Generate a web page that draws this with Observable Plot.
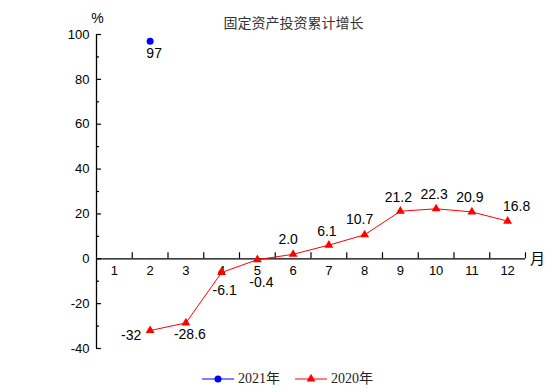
<!DOCTYPE html>
<html><head><meta charset="utf-8">
<script src="https://cdn.jsdelivr.net/npm/d3@7"></script>
<script src="https://cdn.jsdelivr.net/npm/@observablehq/plot@0.6"></script>
<style>
body{margin:0;background:#fff;}
#wrap{position:relative;width:554px;height:392px;background:#fff;}
#title{position:absolute;top:13px;left:0;width:587px;text-align:center;font:14px "Noto Sans CJK SC",sans-serif;color:#333;line-height:18px;}
#legend{position:absolute;top:370px;left:202px;display:flex;align-items:center;font:14px "Liberation Serif","Noto Sans CJK SC",serif;color:#222;line-height:18px;}
#legend .item{display:flex;align-items:center;margin-right:15px;}
#legend svg{margin-right:4px;}
#chart{position:absolute;top:0;left:0;}
</style>
</head><body>
<div id="wrap">
  <div id="chart"></div>
  <div id="title">固定资产投资累计增长</div>
  <div id="legend"></div>
</div>
<script>
// ---- data ----
const months = [1,2,3,4,5,6,7,8,9,10,11,12];
const series2021Months = [2];
const series2021Values = [97];
const series2020Months = [2,3,4,5,6,7,8,9,10,11,12];
const series2020Values = [-32,-28.6,-6.1,-0.4,2.0,6.1,10.7,21.2,22.3,20.9,16.8];
const series2020Labels = ["-32","-28.6","-6.1","-0.4","2.0","6.1","10.7","21.2","22.3","20.9","16.8"];
const series2021Labels = ["97"];
const yTicks = [-40,-20,0,20,40,60,80,100];
const yMinorTicks = [-30,-10,10,30,50,70,90];
const legendNames = ["2021年","2020年"];

// label placement names (per point)
const place2020 = ["left","below","belowDeep","belowDeeper","aboveLeft","above","aboveLeft","above","above","above","aboveRight"];
const place2021 = ["below"];

const offsets = {
  left:[-19,5], below:[4,12], belowDeep:[3,18], belowDeeper:[4,23],
  aboveLeft:[-5,-15], above:[-2,-14], aboveRight:[9,-15]
};

const RED = "#ff0000", BLUE = "#0000ff";
const d2020 = series2020Months.map((m,i)=>({m, v:series2020Values[i], label:series2020Labels[i], p:place2020[i]}));
const d2021 = series2021Months.map((m,i)=>({m, v:series2021Values[i], label:series2021Labels[i], p:place2021[i]}));
const allLabels = [...d2020, ...d2021];
const xMin = months[0]-0.5, xMax = months[months.length-1]+0.5;
const xBoundaries = months.map(m=>m+0.5);

const labelMarks = Object.keys(offsets).map(k => Plot.text(allLabels.filter(d=>d.p===k), {
  x:"m", y:"v", text:"label", dx:offsets[k][0], dy:offsets[k][1],
  fontSize:14, fontFamily:"Liberation Sans, Arial, sans-serif", fill:"#000"
}));

const plot = Plot.plot({
  width:554, height:365,
  marginLeft:96, marginRight:29, marginTop:34, marginBottom:17,
  style:{background:"transparent", overflow:"visible"},
  x:{domain:[xMin,xMax], axis:null},
  y:{domain:[-40,100], axis:null},
  marks:[
    // axes lines
    Plot.ruleX([xMin], {y1:-40, y2:100, stroke:"#000", strokeWidth:1.3}),
    Plot.ruleY([0], {x1:xMin, x2:xMax, stroke:"#000", strokeWidth:1.3}),
    // y ticks (pointing right)
    Plot.ruleY(yTicks, {x1:xMin, x2:xMin, insetLeft:0, insetRight:-5, stroke:"#000", strokeWidth:1.2}),
    Plot.ruleY(yMinorTicks, {x1:xMin, x2:xMin, insetLeft:0, insetRight:-3, stroke:"#000", strokeWidth:1.2}),
    // x ticks (pointing up)
    Plot.ruleX(xBoundaries, {y1:0, y2:0, insetTop:0, insetBottom:6, stroke:"#000", strokeWidth:1.2}),
    // tick labels
    Plot.text(yTicks, {x:xMin, y:d=>d, dx:-7, textAnchor:"end", fontSize:13, fontFamily:"Liberation Sans, Arial, sans-serif", fill:"#000"}),
    Plot.text(months, {x:d=>d, y:0, dy:12, fontSize:13, fontFamily:"Liberation Sans, Arial, sans-serif", fill:"#000"}),
    Plot.text(["%"], {x:xMin, y:100, dx:1, dy:-16, fontSize:14, fontFamily:"Liberation Sans, Arial, sans-serif", fill:"#000"}),
    Plot.text(["月"], {x:xMax, y:0, dx:12, fontSize:15, fontFamily:"Noto Sans CJK SC, sans-serif", fill:"#000"}),
    // series
    Plot.line(d2020, {x:"m", y:"v", stroke:RED, strokeWidth:1}),
    Plot.dot(d2020, {x:"m", y:"v", symbol:"triangle", r:3.3, fill:RED, stroke:null}),
    Plot.dot(d2021, {x:"m", y:"v", symbol:"circle", r:3.5, fill:BLUE, stroke:null}),
    ...labelMarks
  ]
});
document.getElementById("chart").appendChild(plot);

// legend
const legend = document.getElementById("legend");
const legendColors = [BLUE, RED];
const legendSymbols = ["circle","triangle"];
legendNames.forEach((name,i)=>{
  const item = document.createElement("div");
  item.className = "item";
  const sw = d3.create("svg").attr("width",32).attr("height",14);
  sw.append("line").attr("x1",0).attr("x2",32).attr("y1",7).attr("y2",7).attr("stroke",legendColors[i]).attr("stroke-width",1);
  const sym = legendSymbols[i]==="circle" ? d3.symbolCircle : d3.symbolTriangle;
  const size = legendSymbols[i]==="circle" ? Math.PI*3.5*3.5 : Math.PI*3.3*3.3;
  sw.append("path").attr("d", d3.symbol(sym, size)()).attr("transform","translate(16,7)").attr("fill",legendColors[i]);
  item.appendChild(sw.node());
  const t = document.createElement("span");
  t.textContent = name;
  item.appendChild(t);
  legend.appendChild(item);
});
</script>
</body></html>
